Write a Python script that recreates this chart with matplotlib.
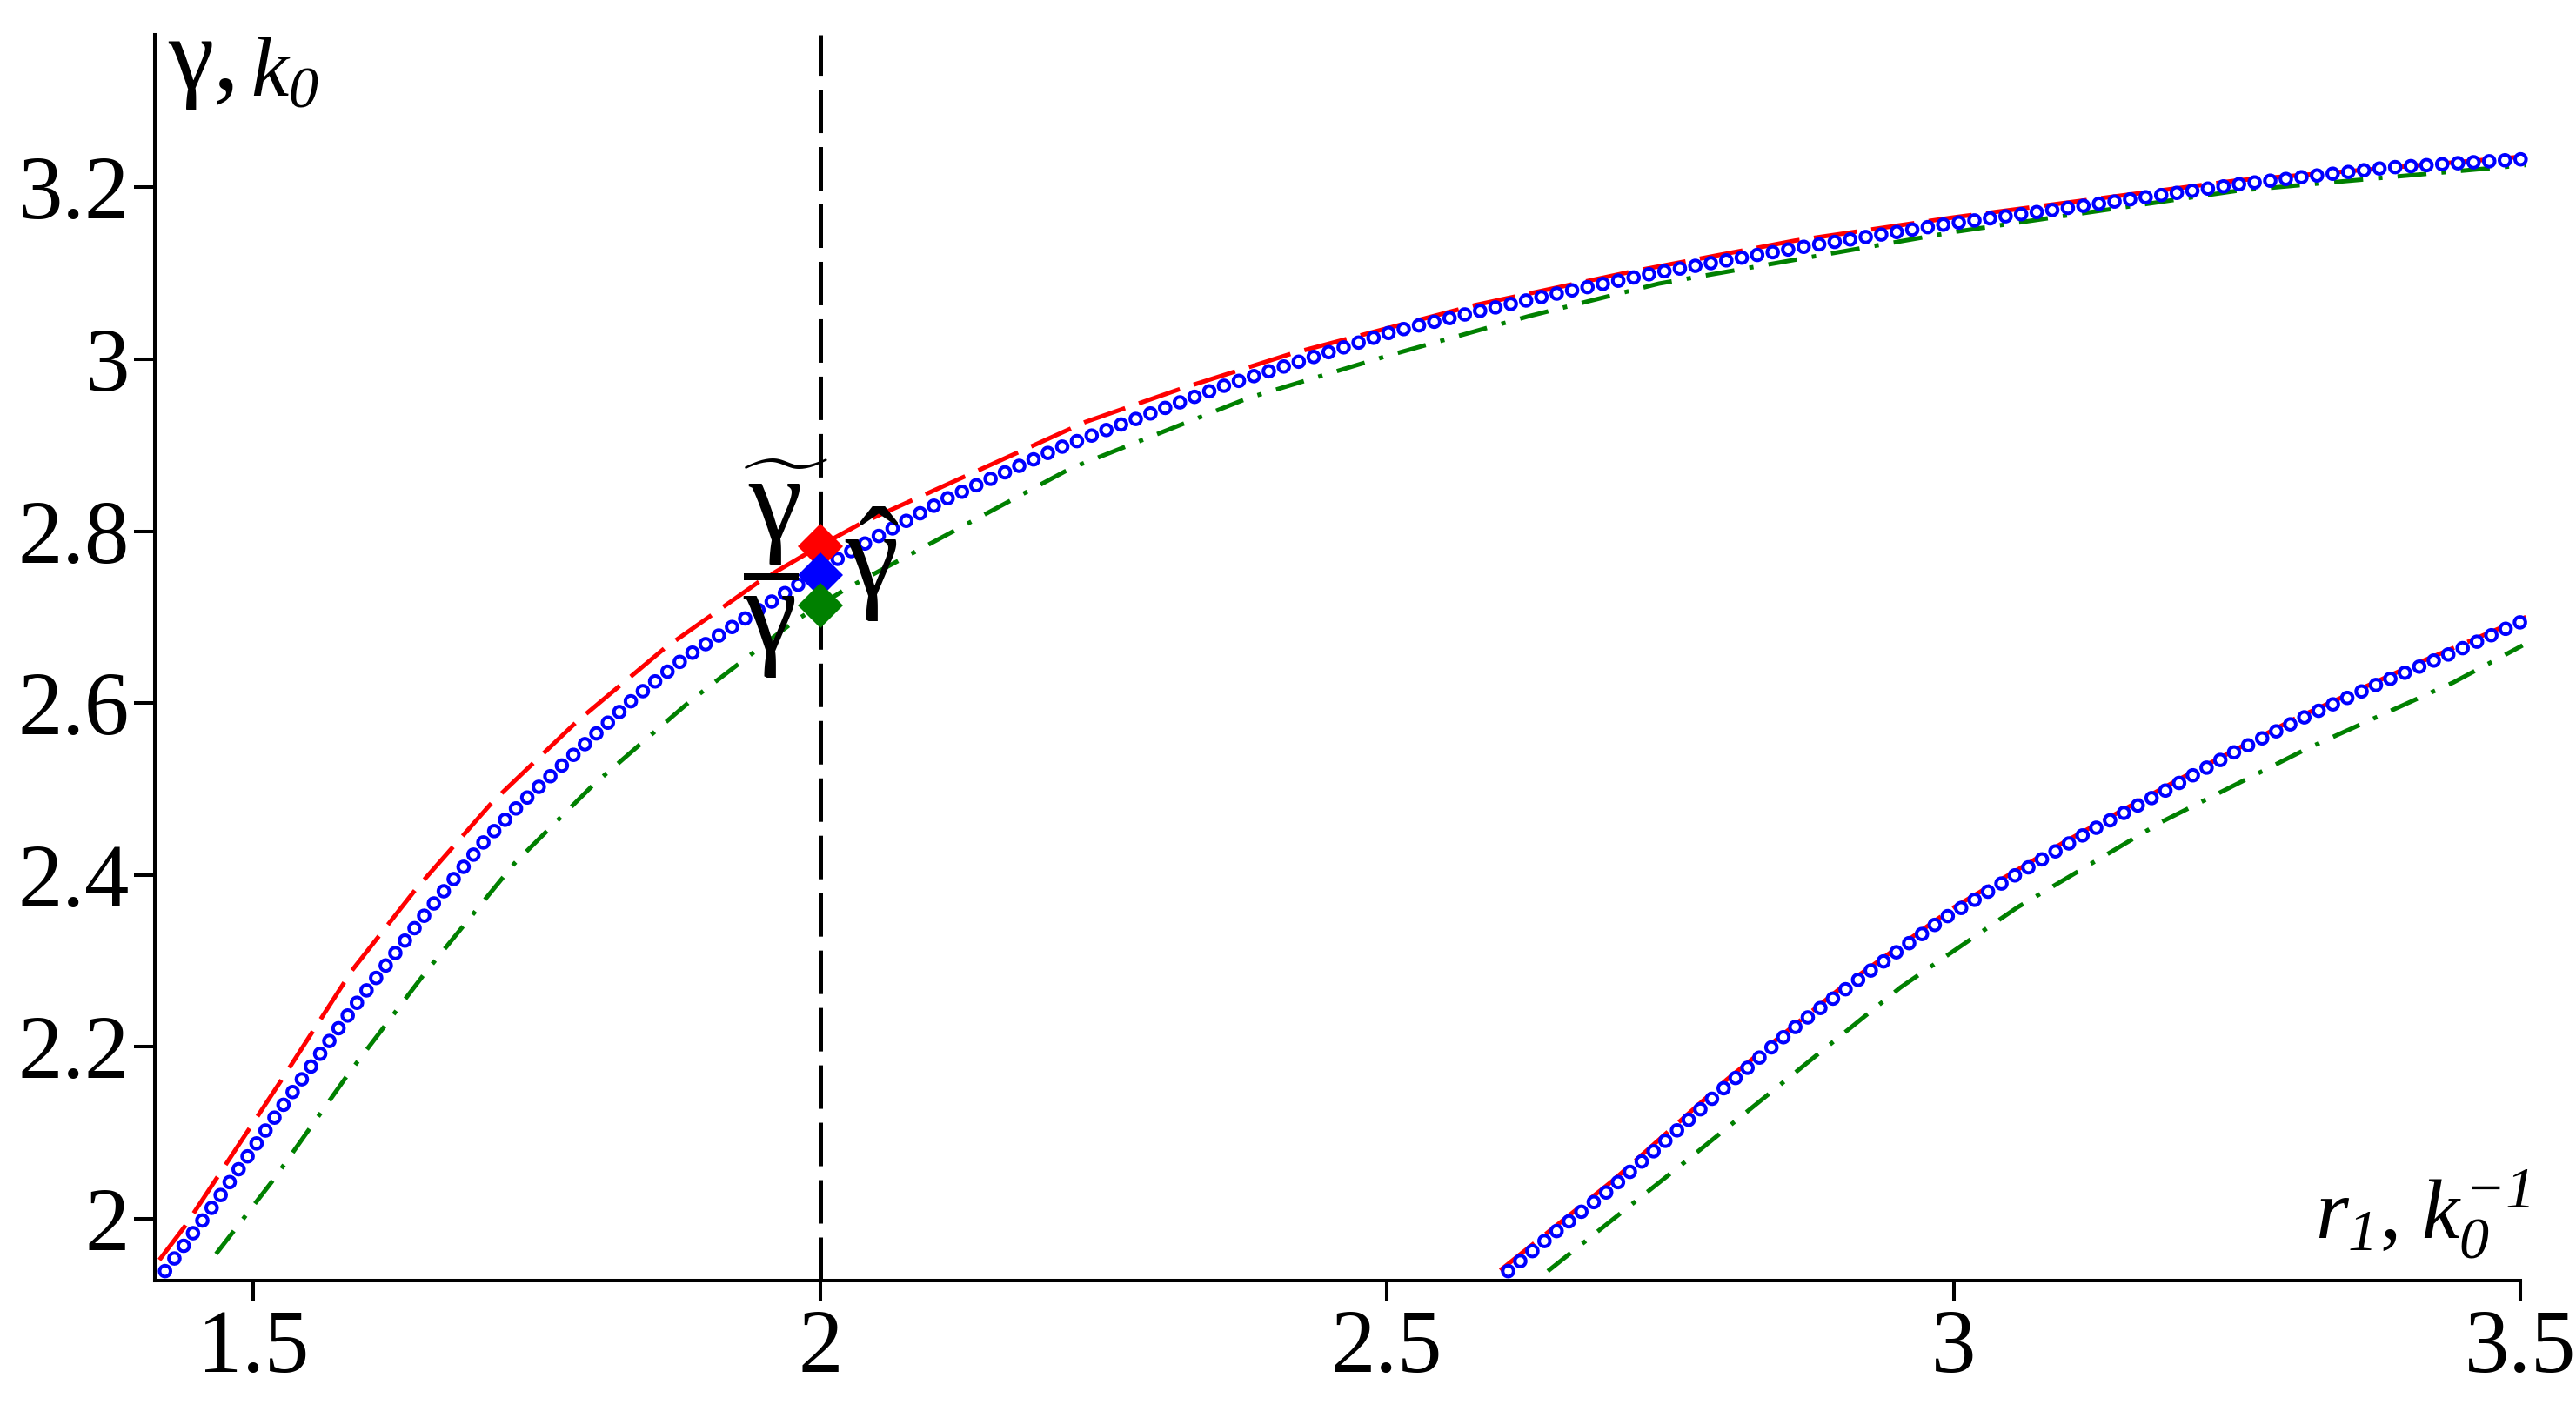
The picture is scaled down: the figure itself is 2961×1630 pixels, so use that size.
import numpy as np
import matplotlib
matplotlib.use("Agg")
import matplotlib.pyplot as plt

# upper branch, three approximations of gamma(r1)
x_up_red = [1.417, 1.440, 1.526, 1.587, 1.643, 1.711, 1.785, 1.863, 1.947, 2.000, 2.036, 2.234,
            2.319, 2.417, 2.578, 2.716, 2.860, 3.000, 3.250, 3.505]
y_up_red = [1.952, 1.992, 2.164, 2.289, 2.383, 2.485, 2.578, 2.664, 2.742, 2.783, 2.809, 2.927,
            2.966, 3.007, 3.063, 3.102, 3.138, 3.165, 3.208, 3.236]

x_up_blue = [1.422, 1.465, 1.524, 1.590, 1.655, 1.703, 1.735, 1.785, 1.837, 1.882, 1.931, 1.981, 2.018,
             2.112, 2.211, 2.358, 2.505, 2.578, 2.652, 2.739, 2.864, 2.993, 3.123, 3.254, 3.383, 3.505]
y_up_blue = [1.939, 2.016, 2.128, 2.249, 2.360, 2.438, 2.482, 2.543, 2.607, 2.654, 2.696, 2.738, 2.770,
             2.838, 2.897, 2.970, 3.032, 3.055, 3.077, 3.101, 3.130, 3.157, 3.180, 3.204, 3.223, 3.233]

x_up_green = [1.467, 1.518, 1.584, 1.652, 1.730, 1.800, 1.886, 1.976, 2.023, 2.221, 2.378, 2.498,
              2.625, 2.740, 3.000, 3.250, 3.505]
y_up_green = [1.959, 2.046, 2.169, 2.287, 2.413, 2.505, 2.603, 2.694, 2.733, 2.873, 2.955, 3.003,
              3.050, 3.088, 3.148, 3.196, 3.226]

# lower branch
x_lo_red = [2.600, 2.700, 2.800, 2.900, 3.000, 3.100, 3.200, 3.300, 3.400, 3.505]
y_lo_red = [1.940, 2.045, 2.162, 2.268, 2.362, 2.440, 2.512, 2.581, 2.641, 2.700]

x_lo_blue = [2.607, 2.651, 2.693, 2.741, 2.799, 2.863, 2.924, 2.991, 3.056, 3.119, 3.184, 3.248,
             3.312, 3.376, 3.441, 3.505]
y_lo_blue = [1.939, 1.987, 2.030, 2.085, 2.154, 2.226, 2.286, 2.349, 2.401, 2.450, 2.496, 2.543,
             2.585, 2.623, 2.659, 2.697]

x_lo_green = [2.642, 2.763, 2.863, 2.953, 3.056, 3.184, 3.312, 3.441, 3.502]
y_lo_green = [1.939, 2.066, 2.173, 2.269, 2.362, 2.462, 2.547, 2.624, 2.667]

# values at r1 = 2
r_mark = 2.0
g_tilde, g_hat, g_bar = 2.782, 2.749, 2.713

xticks = [1.5, 2, 2.5, 3, 3.5]
xticklabels = ["1.5", "2", "2.5", "3", "3.5"]
yticks = [2.0, 2.2, 2.4, 2.6, 2.8, 3.0, 3.2]
yticklabels = ["2", "2.2", "2.4", "2.6", "2.8", "3", "3.2"]

plt.rcParams['font.family'] = ['Liberation Serif', 'DejaVu Serif']
plt.rcParams['mathtext.fontset'] = 'custom'
plt.rcParams['mathtext.rm'] = 'Liberation Serif'
plt.rcParams['mathtext.it'] = 'Liberation Serif:italic'
plt.rcParams['mathtext.sf'] = 'Liberation Serif:italic'
plt.rcParams['mathtext.bf'] = 'Liberation Serif:bold'
plt.rcParams['lines.scale_dashes'] = False

W, H = 2961, 1630
fig = plt.figure(figsize=(W / 100, H / 100), dpi=100)
ax = fig.add_axes([178 / W, 1 - 1472 / H, (2897 - 178) / W, (1472 - 40) / H])
ax.set_xlim(1.413, 3.5)
ax.set_ylim(1.928, 3.3775)

for s in ['top', 'right']:
    ax.spines[s].set_visible(False)
for s in ['left', 'bottom']:
    ax.spines[s].set_linewidth(2.9)

ax.set_xticks(xticks)
ax.set_xticklabels(xticklabels)
ax.set_yticks(yticks)
ax.set_yticklabels(yticklabels)
ax.tick_params(direction='out', length=17, width=2.9, labelsize=74)
ax.tick_params(axis='x', pad=7)
ax.tick_params(axis='y', pad=4)

ax.axvline(r_mark, color='black', lw=3.6, ls=(0, (36, 11.5)), zorder=1)

dash_red = (0, (36, 12))
dash_green = (0, (24, 12.5, 3.6, 12.5))
ring = (0, (0.001, 13))

for xs, ys in [(x_up_red, y_up_red), (x_lo_red, y_lo_red)]:
    ax.plot(xs, ys, color='red', lw=3.6, ls=dash_red, clip_on=False, zorder=2)
for xs, ys in [(x_up_green, y_up_green), (x_lo_green, y_lo_green)]:
    ax.plot(xs, ys, color='green', lw=3.6, ls=dash_green, clip_on=False, zorder=2)
# hollow circles drawn as round dots: blue dot with a white dot inside
for xs, ys in [(x_up_blue, y_up_blue), (x_lo_blue, y_lo_blue)]:
    ax.plot(xs, ys, color='blue', lw=12, ls=ring, dash_capstyle='round', clip_on=False, zorder=3)
    ax.plot(xs, ys, color='white', lw=6.2, ls=ring, dash_capstyle='round', clip_on=False, zorder=3)

ax.plot([r_mark], [g_tilde], 'D', color='red', ms=26.5, mew=0, zorder=5)
ax.plot([r_mark], [g_hat], 'D', color='blue', ms=26.5, mew=0, zorder=5)
ax.plot([r_mark], [g_bar], 'D', color='green', ms=26.5, mew=0, zorder=5)


def px(x, y):
    return x / W, 1 - y / H


# labels of the three markers: gamma with tilde, hat and bar
fig.text(*px(898, 653), r'$\widetilde{\,\mathrm{\gamma}\,}$', fontsize=100,
         ha='center', va='bottom', zorder=6)
fig.text(*px(1002, 717), r'$\hat{\mathrm{\gamma}}$', fontsize=100,
         ha='center', va='bottom', zorder=6)
fig.text(*px(886, 782), r'$\overline{\mathrm{\gamma}}$', fontsize=100,
         ha='center', va='bottom', zorder=6)

fig.text(*px(193, 102), '\u03b3,', fontsize=85, ha='left', va='baseline')
fig.text(*px(288, 110), r'$k_{\mathsf{0}}$', fontsize=70, ha='left', va='baseline')
fig.text(*px(2908, 1423), r'$r_{\mathsf{1}}$, $k_{\mathsf{0}}^{\mathsf{-1}}$', fontsize=70,
         ha='right', va='baseline')

fig.savefig('out.png', dpi=100, facecolor='white')
